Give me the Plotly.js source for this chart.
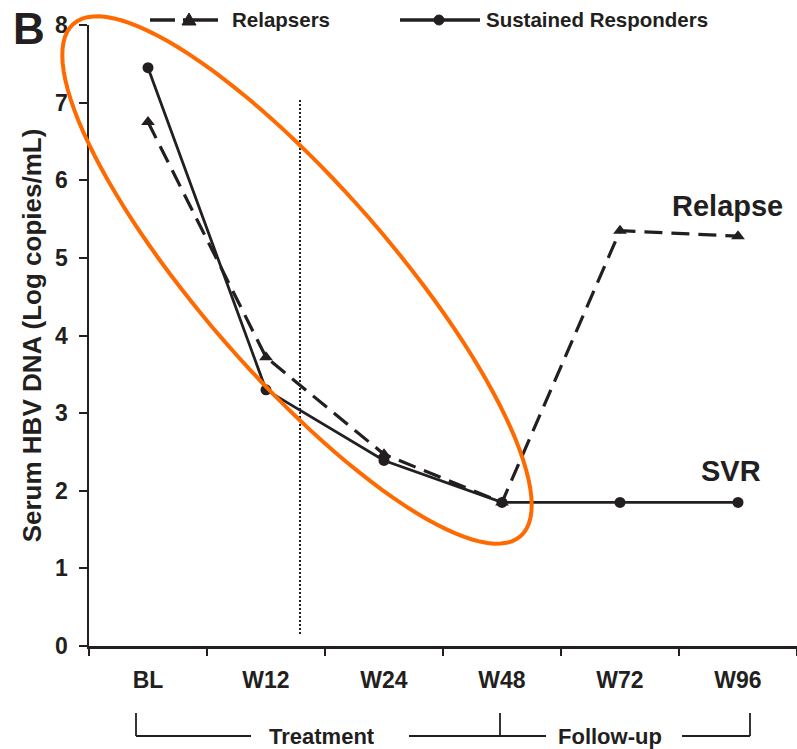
<!DOCTYPE html>
<html>
<head>
<meta charset="utf-8">
<script src="https://cdn.plot.ly/plotly-3.0.1.min.js"></script>
<style>html,body{margin:0;padding:0;background:#fff;}</style>
</head>
<body>
<div id="chart" style="width:797px;height:749px;"></div>
<script>
// ---- data ----
var timepoints = ["BL", "W12", "W24", "W48", "W72", "W96"];
var relapsers = [6.75, 3.72, 2.47, 1.85, 5.35, 5.28];
var sustainedResponders = [7.45, 3.30, 2.39, 1.85, 1.85, 1.85];
var yTicks = [0, 1, 2, 3, 4, 5, 6, 7, 8];
var seriesNames = ["Relapsers", "Sustained Responders"];
var groupLabels = ["Treatment", "Follow-up"];

// ---- layout helpers (pixel -> paper) ----
var W = 797, H = 749, L = 89, T = 25, PW = 708, PH = 621;
function px(x) { return (x - L) / PW; }
function py(y) { return (T + PH - y) / PH; }
var INK = "#231f20";
var FONT = "Liberation Sans, Arial, sans-serif";

var traces = [
  {
    x: timepoints, y: relapsers, name: seriesNames[0], type: "scatter", mode: "lines+markers",
    line: {color: INK, width: 3.2, dash: "18px,9px"},
    marker: {symbol: "triangle-up", size: 12, color: INK},
    cliponaxis: false
  },
  {
    x: timepoints, y: sustainedResponders, name: seriesNames[1], type: "scatter", mode: "lines+markers",
    line: {color: INK, width: 2.8},
    marker: {symbol: "circle", size: 11, color: INK},
    cliponaxis: false
  }
];

// ellipse path (highlight)
function ellipsePath(cx, cy, a, b, thDeg) {
  var th = thDeg * Math.PI / 180, d = "";
  for (var i = 0; i <= 120; i++) {
    var t = 2 * Math.PI * i / 120;
    var x = cx + a * Math.cos(t) * Math.cos(th) - b * Math.sin(t) * Math.sin(th);
    var y = cy + a * Math.cos(t) * Math.sin(th) + b * Math.sin(t) * Math.cos(th);
    d += (i === 0 ? "M" : "L") + px(x).toFixed(5) + "," + py(y).toFixed(5);
  }
  return d + "Z";
}

function seg(x0, y0, x1, y1, w, dash) {
  return {type: "line", xref: "paper", yref: "paper", x0: px(x0), y0: py(y0), x1: px(x1), y1: py(y1),
          line: {color: INK, width: w, dash: dash || "solid"}};
}

var shapes = [
  // dotted separator
  seg(300, 100, 300, 635, 2, "2px,2px"),
  // ellipse
  {type: "path", xref: "paper", yref: "paper", path: ellipsePath(297, 280, 340, 95, 48.9),
   line: {color: "#ff6a00", width: 4}},
  // legend: relapsers
  seg(150, 20, 175, 20, 3.5),
  seg(183, 20, 218, 20, 3.5),
  {type: "path", xref: "paper", yref: "paper",
   path: "M" + px(182) + "," + py(25) + "L" + px(189) + "," + py(13) + "L" + px(196) + "," + py(25) + "Z",
   fillcolor: INK, line: {color: INK, width: 1}},
  // legend: sustained responders
  seg(400, 20, 480, 20, 3.5),
  {type: "circle", xref: "paper", yref: "paper", x0: px(434), y0: py(15), x1: px(444), y1: py(25),
   fillcolor: INK, line: {color: INK, width: 1}},
  // brackets
  seg(136, 713, 136, 736, 1.8),
  seg(136, 736, 251, 736, 1.8),
  seg(409, 736, 546, 736, 1.8),
  seg(500, 713, 500, 736, 1.8),
  seg(682, 736, 750, 736, 1.8),
  seg(750, 713, 750, 736, 1.8)
];

function ann(text, x, y, size, xanchor) {
  return {text: text, xref: "paper", yref: "paper", x: px(x), y: py(y), showarrow: false,
          xanchor: xanchor || "center", yanchor: "middle",
          font: {family: FONT, size: size, color: INK, weight: "bold"}};
}

var annotations = [
  ann("B", 29, 28, 44),
  ann(seriesNames[0], 230, 20, 20.5, "left"),
  ann(seriesNames[1], 484, 20, 20.5, "left"),
  ann("Relapse", 727, 206, 29),
  ann("SVR", 731, 471, 29),
  ann(groupLabels[0], 322, 736, 22),
  ann(groupLabels[1], 610, 736, 22)
];

var layout = {
  width: W, height: H,
  margin: {l: L, r: W - L - PW, t: T, b: H - T - PH, pad: 0},
  paper_bgcolor: "#fff", plot_bgcolor: "#fff",
  showlegend: false,
  font: {family: FONT, color: INK},
  xaxis: {
    type: "category", categoryorder: "array", categoryarray: timepoints,
    range: [-0.5, 5.5], tickson: "boundaries",
    showline: true, linecolor: INK, linewidth: 2.5, mirror: false,
    ticks: "outside", ticklen: 7, tickwidth: 2, tickcolor: INK,
    showgrid: false, zeroline: false, ticklabelstandoff: 12,
    tickfont: {family: FONT, size: 23, color: INK, weight: "bold"}
  },
  yaxis: {
    range: [0, 8], tickvals: yTicks, ticktext: yTicks.map(String),
    showline: true, linecolor: INK, linewidth: 2.5,
    ticks: "outside", ticklen: 8, tickwidth: 2, tickcolor: INK,
    showgrid: false, zeroline: false, ticklabelstandoff: 6,
    tickfont: {family: FONT, size: 23, color: INK, weight: "bold"},
    title: {text: "Serum HBV DNA (Log copies/mL)", standoff: 6,
            font: {family: FONT, size: 26, color: INK, weight: "bold"}}
  },
  shapes: shapes,
  annotations: annotations
};

Plotly.newPlot("chart", traces, layout, {displayModeBar: false, staticPlot: true});
</script>
</body>
</html>
